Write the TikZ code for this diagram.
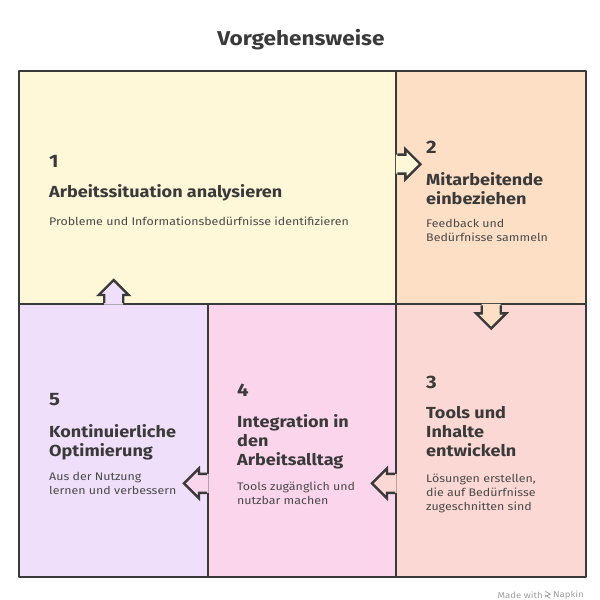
\documentclass[tikz,border=0pt]{standalone}
\usepackage{fontspec}
\setmainfont[FakeStretch=1.13]{Fira Sans}
\usetikzlibrary{calc,positioning}

\definecolor{inkgray}{HTML}{3A3A3A}
\definecolor{textgray}{HTML}{4A4A4A}
\definecolor{stepyellow}{HTML}{FEF7D8}
\definecolor{stepapricot}{HTML}{FDDFC6}
\definecolor{stepsalmon}{HTML}{FCD8D4}
\definecolor{steppink}{HTML}{FBD5EC}
\definecolor{steplilac}{HTML}{F0DFFA}

\tikzset{
  stepbox/.style={draw=inkgray, line width=2.4pt, line join=round, rectangle,
    inner sep=0pt, anchor=north west},
  stepnum/.style={anchor=west, inner sep=0pt, text=inkgray,
    font=\fontsize{18}{20}\selectfont\bfseries},
  stephead/.style={anchor=west, inner sep=0pt, align=left, text=inkgray,
    font=\fontsize{16}{19}\selectfont\bfseries},
  steptext/.style={anchor=west, inner sep=0pt, align=left, text=textgray,
    font=\fontsize{11}{14}\selectfont},
  pics/flowarrow/.style={code={
    \fill[#1] (-1.5,-9.5) -- (8,-9.5) -- (8,-15) -- (23,0) -- (8,15) -- (8,9.5) -- (-1.5,9.5) -- cycle;
    \draw[draw=inkgray, line width=2.4pt, line join=miter]
      (0,-9.5) -- (8,-9.5) -- (8,-15) -- (23,0) -- (8,15) -- (8,9.5) -- (0,9.5);
  }}
}

\begin{document}
\begin{tikzpicture}[x=1pt, y=-1pt]
  \useasboundingbox[fill=white] (0,0) rectangle (600,600);

  \node[font=\fontsize{20}{22}\selectfont\bfseries, text=inkgray] (title) at (301,40) {Vorgehensweise};

  % the five step areas
  \node[stepbox, fill=stepyellow, minimum width=377pt, minimum height=233pt] (b1) at (18,70) {};
  \node[stepbox, fill=stepapricot, minimum width=190pt, minimum height=233pt] (b2) at (395,70) {};
  \node[stepbox, fill=steplilac, minimum width=189pt, minimum height=273pt] (b5) at (18,303) {};
  \node[stepbox, fill=steppink, minimum width=188pt, minimum height=273pt] (b4) at (207,303) {};
  \node[stepbox, fill=stepsalmon, minimum width=190pt, minimum height=273pt] (b3) at (395,303) {};

  % arrows sit on the shared borders
  \coordinate (a12) at ($(b1.north east)!0.4!(b1.south east)$);
  \coordinate (a23) at (b2.south);
  \coordinate (a34) at ($(b3.north west)!0.655!(b3.south west)$);
  \coordinate (a45) at (b4.west |- a34);
  \coordinate (a51) at (b5.north);
  \pic at (a12) {flowarrow=stepyellow};
  \pic[rotate=-90] at (a23) {flowarrow=stepapricot};
  \pic[rotate=180] at (a34) {flowarrow=stepsalmon};
  \pic[rotate=180] at (a45) {flowarrow=steppink};
  \pic[rotate=90] at (a51) {flowarrow=steplilac};

  % step 1
  \node[stepnum] (n1) at (49,161) {1};
  \node[stephead] (h1) at (49,193) {Arbeitssituation analysieren};
  \node[steptext] (t1) at (49,221) {Probleme und Informationsbedürfnisse identifizieren};
  % step 2
  \node[stepnum] (n2) at (426,147) {2};
  \node[stephead] (h2) at (426,188.5) {Mitarbeitende\\einbeziehen};
  \node[steptext] (t2) at (426,230) {Feedback und\\Bedürfnisse sammeln};
  % step 3
  \node[stepnum] (n3) at (426,382) {3};
  \node[stephead] (h3) at (426,432) {Tools und\\Inhalte\\entwickeln};
  \node[steptext] (t3) at (426,493) {Lösungen erstellen,\\die auf Bedürfnisse\\zugeschnitten sind};
  % step 4
  \node[stepnum] (n4) at (237,390) {4};
  \node[stephead] (h4) at (237,442) {Integration in\\den\\Arbeitsalltag};
  \node[steptext] (t4) at (237,493) {Tools zugänglich und\\nutzbar machen};
  % step 5
  \node[stepnum] (n5) at (49,400) {5};
  \node[stephead] (h5) at (49,442) {Kontinuierliche\\Optimierung};
  \node[steptext] (t5) at (49,483.5) {Aus der Nutzung\\lernen und verbessern};

  % credit line
  \node[anchor=east, inner sep=0pt, text=gray!75, font=\fontsize{8.5}{9}\selectfont] (napkin) at (584,595) {Napkin};
  \coordinate[left=5pt of napkin.west] (logo);
  \draw[gray!75, line width=0.8pt] ($(logo)+(-2.5,-3.5)$) -- ($(logo)+(2.5,-1)$) -- ($(logo)+(-2.5,1.5)$)
    ($(logo)+(-2.5,0)$) -- ($(logo)+(2.5,3.5)$);
  \node[anchor=east, inner sep=0pt, text=gray!75, font=\fontsize{8.5}{9}\selectfont] (made) at ($(logo)+(-5,0)$) {Made with};
\end{tikzpicture}
\end{document}
